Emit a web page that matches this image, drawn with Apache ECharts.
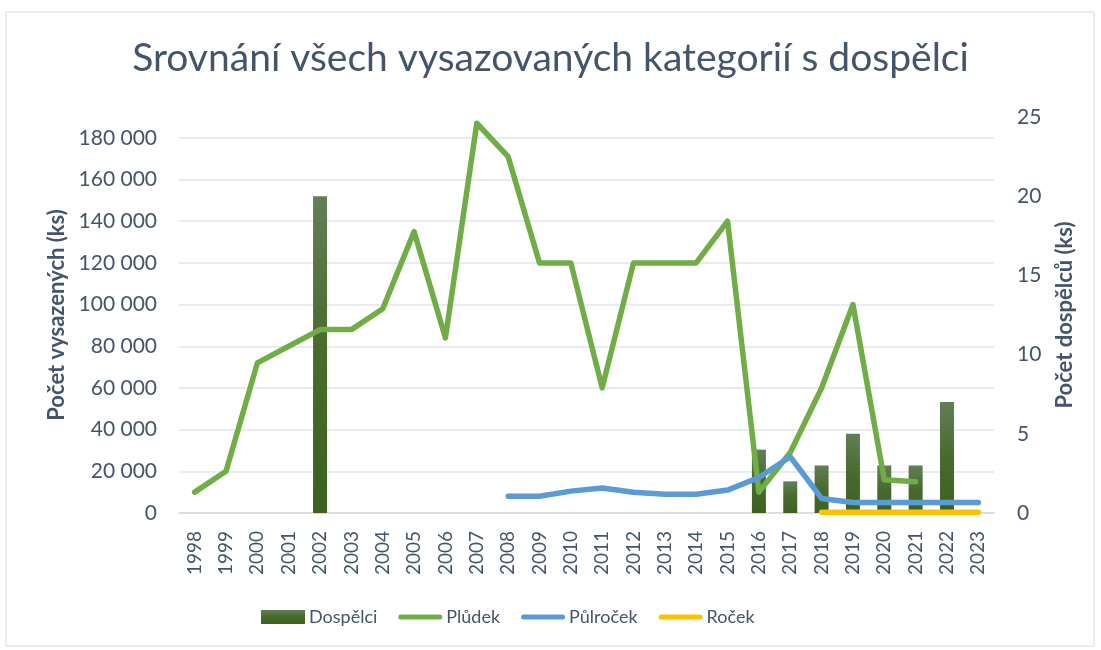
<!DOCTYPE html>
<html>
<head>
<meta charset="utf-8">
<script src="https://cdn.jsdelivr.net/npm/echarts@6/dist/echarts.min.js"></script>
<style>
html,body{margin:0;padding:0;background:#fff;}
#chart{width:1101px;height:650px;}
</style>
</head>
<body>
<div id="chart"></div>
<script>
var years = ['1998','1999','2000','2001','2002','2003','2004','2005','2006','2007','2008','2009','2010','2011','2012','2013','2014','2015','2016','2017','2018','2019','2020','2021','2022','2023'];
var dospelci = [null,null,null,null,20,null,null,null,null,null,null,null,null,null,null,null,null,null,4,2,3,5,3,3,7,null];
var pludek = [10000,20000,72000,80000,88000,88000,98000,135000,84000,187000,171000,120000,120000,60000,120000,120000,120000,140000,10000,29000,60000,100000,16000,15000,null,null];
var pulrocek = [null,null,null,null,null,null,null,null,null,null,8000,8000,10500,12000,10000,9000,9000,11000,17000,27000,7000,5000,5000,5000,5000,5000];
var rocek = [null,null,null,null,null,null,null,null,null,null,null,null,null,null,null,null,null,null,null,null,300,300,300,300,300,300];
var leftTicks = {min:0, max:190000, interval:20000};
var rightTicks = {min:0, max:25, interval:5};

var txt = '#44546A';
var font = 'Lato';
function fmt(v){ return String(v).replace(/\B(?=(\d{3})+(?!\d))/g, ' '); }
var lineIcon = 'path://M2.5,0 L41.5,0 A2.5,2.5 0 0 1 41.5,5 L2.5,5 A2.5,2.5 0 0 1 2.5,0 Z';

var chart = echarts.init(document.getElementById('chart'));
chart.setOption({
  backgroundColor:'#fff',
  animation:false,
  textStyle:{fontFamily:font},
  graphic:[{type:'rect',shape:{x:6,y:12,width:1088,height:634},style:{fill:'none',stroke:'#D9D9D9',lineWidth:1},silent:true}],
  title:{text:'Srovnání všech vysazovaných kategorií s dospělci',left:'center',top:34,
    textStyle:{color:txt,fontSize:39,fontWeight:'normal',fontFamily:font}},
  grid:{left:179,right:107,top:117,bottom:137},
  legend:{bottom:19,left:256,itemGap:21,itemWidth:44,itemHeight:14,symbolKeepAspect:true,
    textStyle:{color:txt,fontSize:18,fontFamily:font,padding:[0,0,0,-1]},
    data:[{name:'Dospělci',icon:'rect'},{name:'Plůdek',icon:lineIcon},{name:'Půlroček',icon:lineIcon},{name:'Roček',icon:lineIcon}]},
  xAxis:{type:'category',data:years,boundaryGap:true,
    axisLine:{lineStyle:{color:'#D9D9D9',width:1.5}},axisTick:{show:false},
    axisLabel:{rotate:90,color:txt,fontSize:19,margin:18,interval:0,fontFamily:font}},
  yAxis:[{type:'value',min:leftTicks.min,max:leftTicks.max,interval:leftTicks.interval,
      name:'Počet vysazených (ks)',nameLocation:'middle',nameRotate:90,nameGap:110,
      nameTextStyle:{color:txt,fontSize:22,fontWeight:'bold',fontFamily:font},
      axisLine:{show:false},axisTick:{show:false},
      axisLabel:{color:txt,fontSize:21,margin:22,showMaxLabel:false,fontFamily:font,
        formatter:function(v){return v>180000?'':fmt(v);}},
      splitLine:{show:true,showMaxLine:false,lineStyle:{color:'#E1E5EC',width:1.5}}},
    {type:'value',min:rightTicks.min,max:rightTicks.max,interval:rightTicks.interval,position:'right',
      name:'Počet dospělců (ks)',nameLocation:'middle',nameRotate:90,nameGap:60,
      nameTextStyle:{color:txt,fontSize:22,fontWeight:'bold',fontFamily:font},
      axisLine:{show:false},axisTick:{show:false},
      axisLabel:{color:txt,fontSize:21,margin:23,fontFamily:font},
      splitLine:{show:false}}],
  series:[
    {name:'Dospělci',type:'bar',yAxisIndex:1,data:dospelci,barWidth:14,
      itemStyle:{color:new echarts.graphic.LinearGradient(0,0,0,1,[{offset:0,color:'#637E56'},{offset:0.5,color:'#476B2C'},{offset:1,color:'#3B611F'}])}},
    {name:'Plůdek',type:'line',yAxisIndex:0,data:pludek,symbol:'none',
      lineStyle:{color:'#70AD47',width:5.5,cap:'round',join:'round'},itemStyle:{color:'#70AD47'}},
    {name:'Půlroček',type:'line',yAxisIndex:0,data:pulrocek,symbol:'none',
      lineStyle:{color:'#5B9BD5',width:5.5,cap:'round',join:'round'},itemStyle:{color:'#5B9BD5'}},
    {name:'Roček',type:'line',yAxisIndex:0,data:rocek,symbol:'none',
      lineStyle:{color:'#FFC000',width:5.5,cap:'round',join:'round'},itemStyle:{color:'#FFC000'}}
  ]
});
</script>
</body>
</html>
